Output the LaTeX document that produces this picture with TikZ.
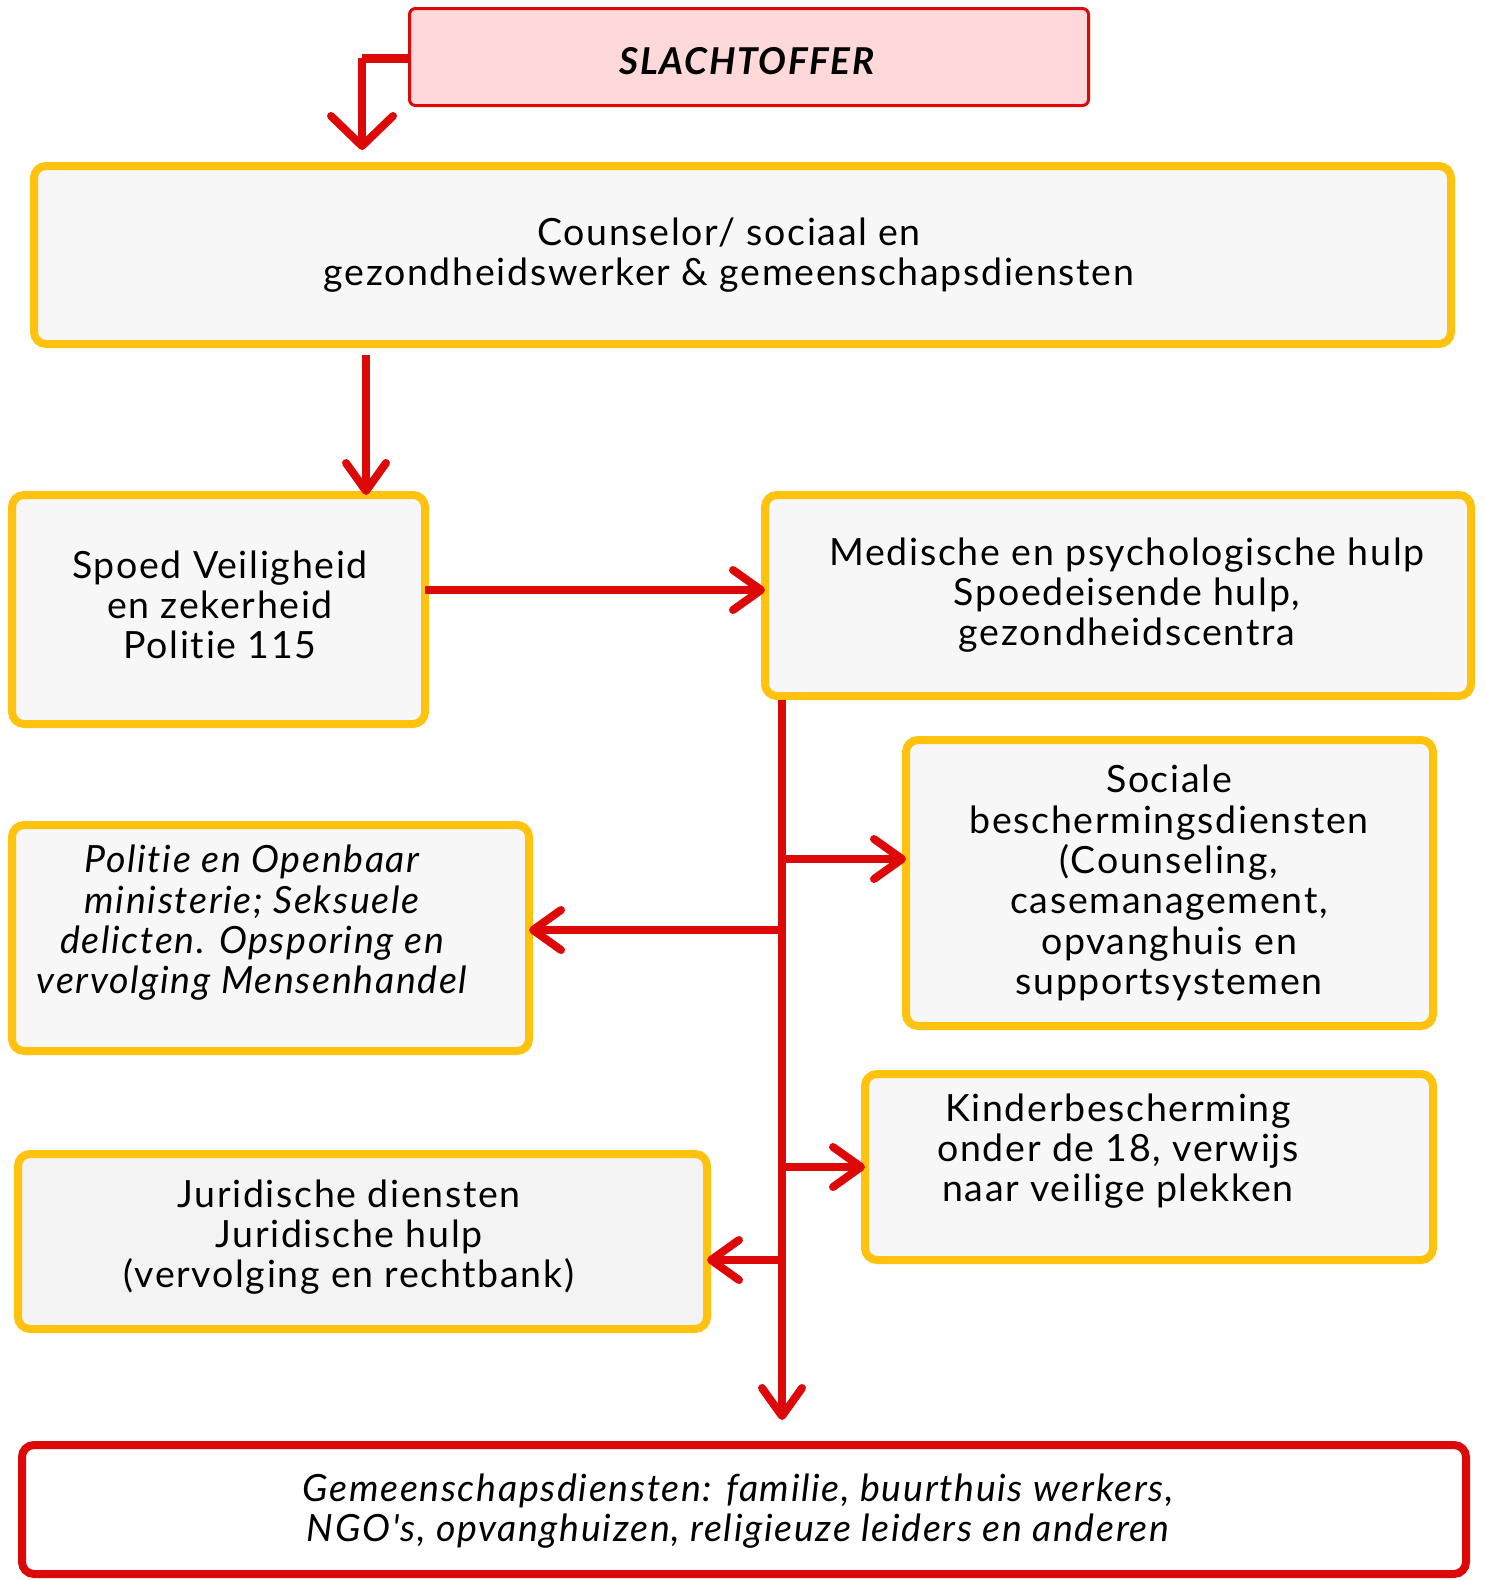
\documentclass[tikz,border=0pt]{standalone}
\usepackage{fontspec}
\setmainfont{Lato}[LetterSpace=4.5, Ligatures={NoCommon,NoRequired,NoContextual}]
\newfontfamily\latoplain{Lato}[LetterSpace=4.5, Ligatures={NoCommon,NoRequired,NoContextual}]
\usetikzlibrary{arrows.meta}
\definecolor{yel}{HTML}{FFC20E}
\definecolor{redc}{HTML}{DD0808}
\definecolor{boxgray}{HTML}{F7F7F7}
\definecolor{boxgrayb}{HTML}{F3F3F3}
\definecolor{pinkc}{HTML}{FFD9D9}
\tikzset{
  ybox/.style={draw=yel, line width=8pt, fill=boxgray, rounded corners=12pt, rectangle, inner sep=0pt, outer sep=0pt},
  txt/.style={align=center, font=\fontsize{37.5}{40.3}\selectfont, inner sep=0pt},
  itxt/.style={txt, font=\fontsize{37.5}{40.3}\selectfont\itshape},
  arr/.style={draw=redc, line width=8pt, -{Straight Barb[length=28pt,width=40pt,round]}},
  line/.style={draw=redc, line width=8pt}
}
\begin{document}
\begin{tikzpicture}[x=1pt,y=-1pt]
\useasboundingbox (0,0) rectangle (1484,1580);
% boxes
\node[rectangle, draw=redc, line width=3pt, fill=pinkc, rounded corners=6pt, minimum width=679pt, minimum height=97pt, inner sep=0pt] (slacht) at (749,57) {};
\node[ybox, minimum width=1417pt, minimum height=178pt] (couns) at (742.5,255) {};
\node[ybox, minimum width=413pt, minimum height=229pt] (spoed) at (218.5,609.5) {};
\node[ybox, minimum width=706pt, minimum height=201pt] (med) at (1118,595.5) {};
\node[ybox, minimum width=527pt, minimum height=286pt] (soc) at (1169.5,883) {};
\node[ybox, minimum width=517pt, minimum height=226pt] (pol) at (270.5,938) {};
\node[ybox, minimum width=568pt, minimum height=186pt] (kind) at (1149,1167) {};
\node[ybox, fill=boxgrayb, minimum width=689pt, minimum height=175pt] (jur) at (362.5,1241.5) {};
\node[rectangle, draw=redc, line width=8pt, fill=white, rounded corners=12pt, minimum width=1444pt, minimum height=129pt, inner sep=0pt] (bot) at (744,1509.5) {};
% texts
\node[txt, font=\fontsize{37}{40.3}\selectfont\bfseries\itshape] (slachtt) at (747,61) {SLACHTOFFER};
\node[txt] (counst) at (729,255) {Counselor/ sociaal en\\gezondheidswerker \& gemeenschapsdiensten};
\node[txt] (spoedt) at (220,605) {Spoed Veiligheid\\en zekerheid\\Politie 115};
\node[txt] (medt) at (1127,595) {Medische en psychologische hulp\\Spoedeisende hulp,\\gezondheidscentra};
\node[txt] (soct) at (1169,883) {Sociale\\beschermingsdiensten\\(Counseling,\\casemanagement,\\opvanghuis en\\supportsystemen};
\node[itxt] (polt) at (252,923) {Politie en Openbaar\\ministerie; Seksuele\\delicten. Opsporing en\\vervolging Mensenhandel};
\node[txt] (kindt) at (1118,1151) {Kinderbescherming\\onder de 18, verwijs\\naar veilige plekken};
\node[txt] (jurt) at (349,1237) {Juridische diensten\\Juridische hulp\\(vervolging en rechtbank)};
\node[itxt, font=\fontsize{37.5}{40.3}\selectfont\latoplain\itshape] (bott) at (738,1511) {Gemeenschapsdiensten: familie, buurthuis werkers,\\NGO's, opvanghuizen, religieuze leiders en anderen};
% coordinates
\coordinate (c1) at (362,58);
\coordinate (c2) at (362,150);
\coordinate (c3) at (366,355);
\coordinate (y590) at (0,590);
\coordinate (ttop) at (782,700);
\coordinate (tbot) at (782,1420);
\coordinate (y859) at (0,859);
\coordinate (y930) at (0,930);
\coordinate (y1167) at (0,1167);
\coordinate (y1260) at (0,1260);
% connectors
\draw[line, line width=9pt] (slacht.west |- c1) -- (c1);
\draw[draw=redc, line width=8pt, -{Straight Barb[length=30pt,width=62pt,round]}] (c1) -- (c2);
\draw[arr] (c3) -- (c3 |- spoed.north);
\draw[arr] (spoed.east |- y590) -- (med.west |- y590);
\draw[arr] (ttop) -- (tbot);
\draw[arr] (ttop |- y859) -- (soc.west |- y859);
\draw[arr] (ttop |- y930) -- (pol.east |- y930);
\draw[arr] (ttop |- y1167) -- (kind.west |- y1167);
\draw[arr] (ttop |- y1260) -- (jur.east |- y1260);
\end{tikzpicture}
\end{document}
